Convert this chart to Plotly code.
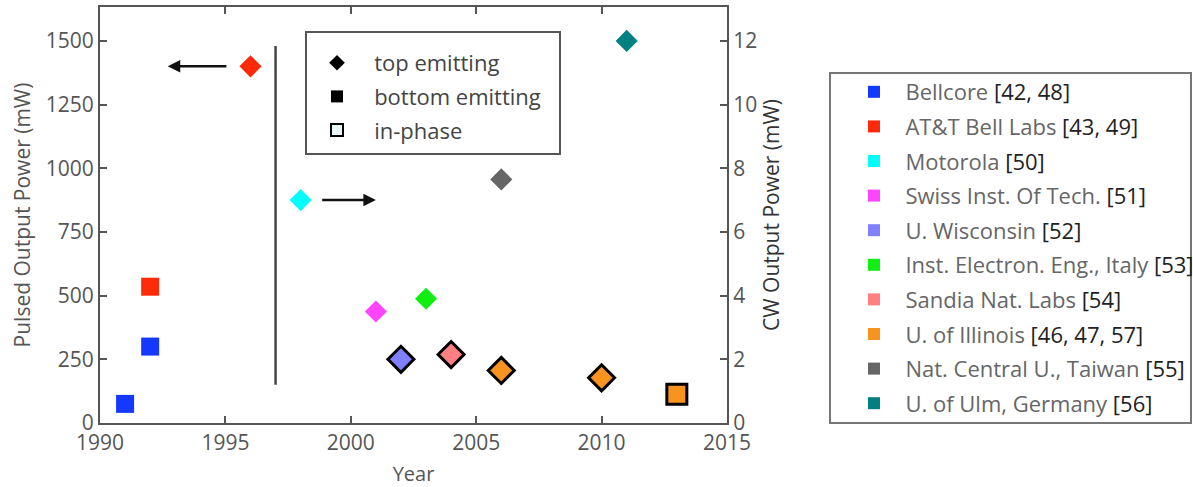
import plotly.graph_objects as go

# ---------------- data ----------------
orgs = ["Bellcore", "AT&T Bell Labs", "Motorola", "Swiss Inst. Of Tech.", "U. Wisconsin",
        "Inst. Electron. Eng., Italy", "Sandia Nat. Labs", "U. of Illinois",
        "Nat. Central U., Taiwan", "U. of Ulm, Germany"]
refs = ["[42, 48]", "[43, 49]", "[50]", "[51]", "[52]", "[53]", "[54]", "[46, 47, 57]", "[55]", "[56]"]
colors = ["#1438ff", "#ff2a0a", "#00ffff", "#ff44ff", "#8080ff", "#11ee11",
          "#ff8080", "#f7931e", "#666666", "#008080"]

# pulsed points (left axis, mW)
pulsed_org = ["Bellcore", "Bellcore", "AT&T Bell Labs", "AT&T Bell Labs"]
pulsed_year = [1991, 1992, 1992, 1996]
pulsed_power = [75, 300, 535, 1400]
pulsed_type = ["bottom", "bottom", "bottom", "top"]

# CW points (right axis, mW)
cw_org = ["Motorola", "Swiss Inst. Of Tech.", "U. Wisconsin", "Inst. Electron. Eng., Italy",
          "Sandia Nat. Labs", "U. of Illinois", "U. of Illinois", "U. of Illinois",
          "Nat. Central U., Taiwan", "U. of Ulm, Germany"]
cw_year = [1998, 2001, 2002, 2003, 2004, 2006, 2010, 2013, 2006, 2011]
cw_power = [7.0, 3.5, 2.0, 3.9, 2.15, 1.65, 1.42, 0.9, 7.65, 12.0]
cw_type = ["top", "top", "top", "top", "top", "top", "top", "bottom", "top", "top"]
cw_inphase = [False, False, True, False, True, True, True, True, False, False]

x_ticks = [1990, 1995, 2000, 2005, 2010, 2015]
left_ticks = [0, 250, 500, 750, 1000, 1250, 1500]
right_ticks = [0, 2, 4, 6, 8, 10, 12]

divider_year = 1997
divider_span = [150, 1480]

col = dict(zip(orgs, colors))
FONT = "Open Sans"
GRAY = "#555555"
NB = "\u00a0\u00a0"
W, H = 1193, 487
ML, MR, MT, MB = 100, 466, 7, 64
PW, PH = W - ML - MR, H - MT - MB


def px_x(p):  # pixel -> paper x
    return (p - ML) / PW


def px_y(p):  # pixel -> paper y
    return (H - MB - p) / PH


fig = go.Figure()


def add_point(year, val, org, typ, inphase, yaxis):
    sym = "diamond" if typ == "top" else "square"
    if inphase:
        size = 20
        line = dict(color="black", width=3)
    else:
        size = 17 if typ == "top" else 18
        line = dict(color=col[org], width=0)
    fig.add_trace(go.Scatter(
        x=[year], y=[val], yaxis=yaxis, mode="markers", showlegend=False,
        marker=dict(symbol=sym, size=size, color=col[org], line=line),
        hoverinfo="skip"))


for o, yr, p, t in zip(pulsed_org, pulsed_year, pulsed_power, pulsed_type):
    add_point(yr, p, o, t, False, "y")
for o, yr, p, t, ip in zip(cw_org, cw_year, cw_power, cw_type, cw_inphase):
    add_point(yr, p, o, t, ip, "y2")

# organization legend (right)
for i, (o, r, c) in enumerate(zip(orgs, refs, colors)):
    fig.add_trace(go.Scatter(
        x=[None], y=[None], mode="markers", legend="legend", legendgroup=f"g{i}",
        name=f"{NB}<span style='color:#666'>{o}</span> <span style='color:#222'>{r}</span>",
        marker=dict(symbol="square", size=13, color=c, line=dict(width=0))))

# emitter-type legend (inside)
type_names = ["top emitting", "bottom emitting", "in-phase"]
type_syms = ["diamond", "square", "square"]
type_fill = ["black", "black", "#e6f7f7"]
type_line = [0, 0, 3]
for i, (n, s, f, lw) in enumerate(zip(type_names, type_syms, type_fill, type_line)):
    fig.add_trace(go.Scatter(
        x=[None], y=[None], mode="markers", legend="legend2", legendgroup=f"t{i}",
        name=NB + "\u00a0" + n, marker=dict(symbol=s, size=17 if s == "square" else 16, color=f,
                                            line=dict(color="black", width=lw))))

# legend frames
fig.add_shape(type="rect", xref="paper", yref="paper",
              x0=px_x(830), x1=px_x(1191), y0=px_y(423), y1=px_y(73),
              line=dict(color="#777", width=2), fillcolor="rgba(0,0,0,0)")
fig.add_shape(type="rect", xref="paper", yref="paper",
              x0=px_x(306), x1=px_x(560), y0=px_y(154), y1=px_y(32),
              line=dict(color="#555", width=2), fillcolor="white", layer="below")

# vertical divider
fig.add_shape(type="line", xref="x", yref="y", x0=divider_year, x1=divider_year,
              y0=divider_span[0], y1=divider_span[1], line=dict(color="#444", width=2.5))

# arrows
fig.add_annotation(x=1992.7, y=1400, ax=1995.1, ay=1400, xref="x", yref="y",
                   axref="x", ayref="y", showarrow=True, arrowhead=2, arrowsize=1,
                   arrowwidth=2.5, arrowcolor="#111", text="")
fig.add_annotation(x=2001.0, y=875, ax=1998.8, ay=875, xref="x", yref="y",
                   axref="x", ayref="y", showarrow=True, arrowhead=2, arrowsize=1,
                   arrowwidth=2.5, arrowcolor="#111", text="")

axis_common = dict(showline=True, linecolor=GRAY, linewidth=2, ticks="inside",
                   ticklen=7, tickwidth=2, tickcolor=GRAY, showgrid=False, zeroline=False,
                   automargin=False, tickfont=dict(family=FONT, size=21, color=GRAY))

fig.update_layout(
    width=W, height=H,
    margin=dict(l=ML, r=MR, t=MT, b=MB, autoexpand=False),
    plot_bgcolor="white", paper_bgcolor="white",
    font=dict(family=FONT, color=GRAY),
    xaxis=dict(range=[1990, 2015], tickvals=x_ticks, mirror="ticks",
               title=dict(text="Year", font=dict(family=FONT, size=20, color=GRAY), standoff=16),
               **axis_common),
    yaxis=dict(range=[0, 1633], tickvals=left_ticks,
               title=dict(text="Pulsed Output Power (mW)", font=dict(family=FONT, size=21, color=GRAY),
                          standoff=9),
               **axis_common),
    yaxis2=dict(range=[0, 1633 / 125], tickvals=right_ticks, overlaying="y", side="right",
                title=dict(text="CW Output Power (mW)", font=dict(family=FONT, size=21, color="#333"),
                           standoff=8),
                **axis_common),
    legend=dict(x=px_x(854), y=px_y(71), xanchor="left", yanchor="top",
                borderwidth=0, bgcolor="rgba(0,0,0,0)",
                font=dict(family=FONT, size=22, color="#666"), tracegroupgap=3,
                itemsizing="constant"),
    legend2=dict(x=px_x(317), y=px_y(42), xanchor="left", yanchor="top",
                 borderwidth=0, bgcolor="rgba(0,0,0,0)",
                 font=dict(family=FONT, size=22, color="#444"), tracegroupgap=2,
                 itemsizing="constant"),
)

fig.write_html("out.html", config={"displayModeBar": False},
               post_script="document.body.style.margin='0';document.body.style.padding='0';")
